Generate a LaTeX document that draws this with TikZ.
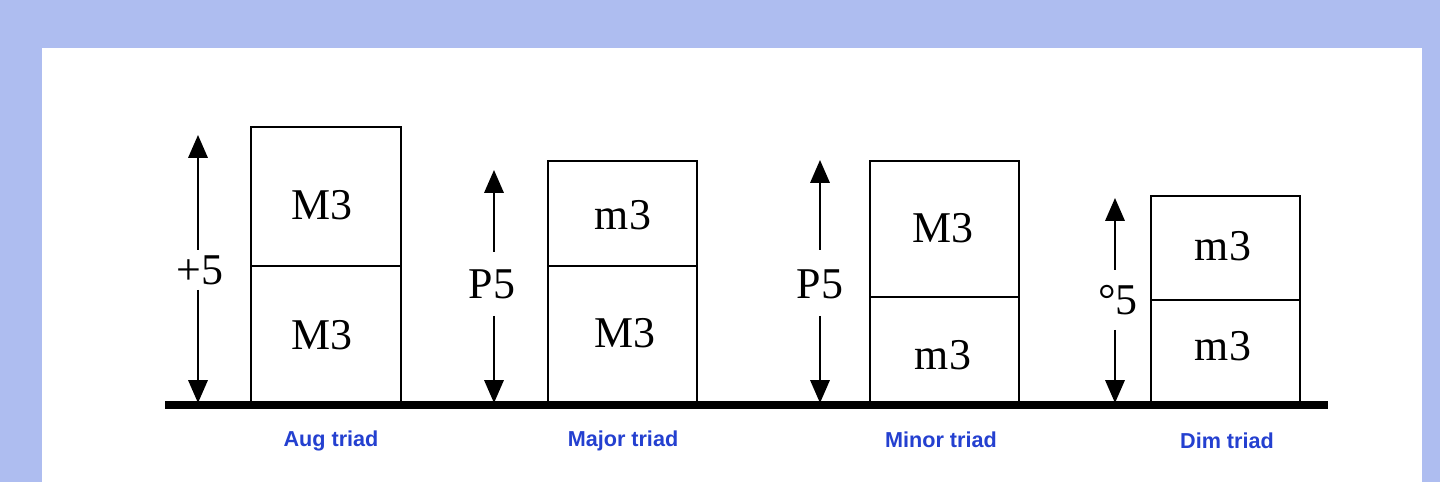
\documentclass[tikz,border=0pt]{standalone}
\usepackage{fontspec}
\setmainfont{Liberation Serif}
\newfontfamily\lsans{Liberation Sans}
\usetikzlibrary{arrows.meta}
\definecolor{bgblue}{HTML}{AEBDF0}
\definecolor{lblue}{HTML}{2440D0}
\begin{document}
\begin{tikzpicture}[x=0.02cm,y=-0.02cm,
  iv/.style={font=\fontsize{25}{25}\selectfont},
  lab/.style={font=\lsans\bfseries\fontsize{12.3}{12.3}\selectfont,text=lblue},
  arr/.style={line width=1.2pt,-{Triangle[length=13pt,width=11pt]}}]
\fill[bgblue] (0,0) rectangle (1440,482);
\fill[white] (42,48) rectangle (1422,482);
\useasboundingbox (0,0) rectangle (1440,482);
% boxes
\draw[line width=1.2pt] (251,127) rectangle (401,405) (251,266) -- (401,266);
\node[iv] (a1) at (322,205) {M3}; \node[iv] (a2) at (322,335) {M3};
\draw[line width=1.2pt] (548,161) rectangle (697,405) (548,266) -- (697,266);
\node[iv] (b1) at (623,215) {m3}; \node[iv] (b2) at (625,333) {M3};
\draw[line width=1.2pt] (870,161) rectangle (1019,405) (870,297) -- (1019,297);
\node[iv] (c1) at (943,228) {M3}; \node[iv] (c2) at (943,355) {m3};
\draw[line width=1.2pt] (1151,196) rectangle (1300,405) (1151,300) -- (1300,300);
\node[iv] (d1) at (1223,246) {m3}; \node[iv] (d2) at (1223,346) {m3};
% baseline
\draw[line width=4.5pt] (165,405) -- (1328,405);
% arrows
\node[iv] (ai) at (200,270) {+5};
\coordinate (at) at (198,135); \coordinate (ab) at (198,403);
\draw[arr] (198,250) -- (at); \draw[arr] (198,290) -- (ab);
\node[iv] (bi) at (492,284) {P5};
\coordinate (bt) at (494,170); \coordinate (bb) at (494,403);
\draw[arr] (494,252) -- (bt); \draw[arr] (494,316) -- (bb);
\node[iv] (ci) at (820,284) {P5};
\coordinate (ct) at (820,160); \coordinate (cb) at (820,403);
\draw[arr] (820,250) -- (ct); \draw[arr] (820,316) -- (cb);
\node[iv] (di) at (1118,300) {°5};
\coordinate (dt) at (1115,198); \coordinate (db) at (1115,403);
\draw[arr] (1115,270) -- (dt); \draw[arr] (1115,330) -- (db);
% labels
\node[lab] (la) at (331,441) {Aug triad};
\node[lab] (lb) at (623,441) {Major triad};
\node[lab] (lc) at (941,440) {Minor triad};
\node[lab] (ld) at (1227,441) {Dim triad};
\end{tikzpicture}
\end{document}
